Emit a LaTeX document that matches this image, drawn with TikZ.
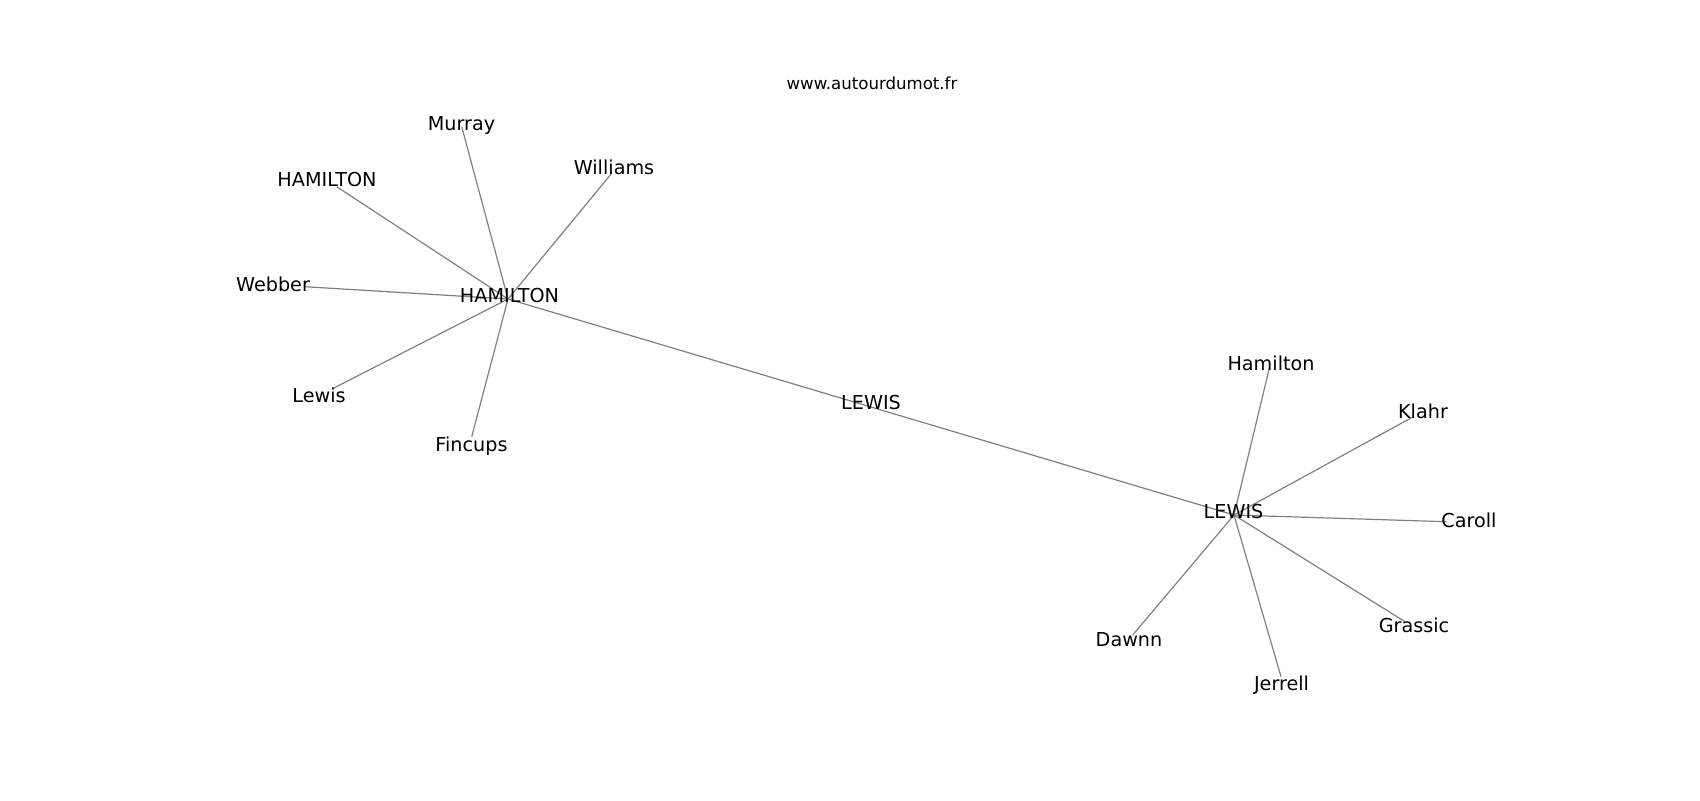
\documentclass[tikz,border=0pt]{standalone}
\usepackage{fontspec}
\setmainfont{DejaVu Sans}
\begin{document}
\begin{tikzpicture}[x=0.5pt,y=-0.5pt,
  lbl/.style={anchor=base,inner sep=0pt,font=\fontsize{9.6}{11}\selectfont},
  ttl/.style={anchor=base,inner sep=0pt,font=\fontsize{8.3}{10}\selectfont},
  edge/.style={draw=black!50,line width=0.6pt}]
\useasboundingbox (0,0) rectangle (1700,800);
% edge end points
\coordinate (hH) at (508,299);
\coordinate (eMurray) at (461.7,126.7);
\coordinate (eWilliams) at (611.7,173.3);
\coordinate (eHam) at (336.7,186.7);
\coordinate (eWebber) at (305,286.7);
\coordinate (eLewis) at (333.3,388.3);
\coordinate (eFincups) at (471.7,436.7);
\coordinate (mid) at (871,407);
\coordinate (hL) at (1234,515);
\coordinate (eHamilton) at (1269.3,368.3);
\coordinate (eKlahr) at (1413.3,416.7);
\coordinate (eCaroll) at (1446.7,521.7);
\coordinate (eDawnn) at (1132.7,635);
\coordinate (eJerrell) at (1281,676.7);
\coordinate (eGrassic) at (1405,621.7);
% edges
\foreach \e in {eMurray,eWilliams,eHam,eWebber,eLewis,eFincups}
  \draw[edge] (hH) -- (\e);
\draw[edge] (hH) -- (mid) -- (hL);
\foreach \e in {eHamilton,eKlahr,eCaroll,eDawnn,eJerrell,eGrassic}
  \draw[edge] (hL) -- (\e);
% labels
\node[ttl] (title) at (872,89) {www.autourdumot.fr};
\node[lbl] (murray) at (461.5,130) {Murray};
\node[lbl] (williams) at (614,174) {Williams};
\node[lbl] (hamleaf) at (327,186) {HAMILTON};
\node[lbl] (webber) at (273,291) {Webber};
\node[lbl] (hamhub) at (509.5,302) {HAMILTON};
\node[lbl] (lewis) at (319,402) {Lewis};
\node[lbl] (fincups) at (471.5,451) {Fincups};
\node[lbl] (lewismid) at (871,409) {LEWIS};
\node[lbl] (hamilton) at (1271,370) {Hamilton};
\node[lbl] (klahr) at (1423,418) {Klahr};
\node[lbl] (lewishub) at (1233.5,518) {LEWIS};
\node[lbl] (caroll) at (1469,527) {Caroll};
\node[lbl] (dawnn) at (1129,646) {Dawnn};
\node[lbl] (jerrell) at (1281.5,690) {Jerrell};
\node[lbl] (grassic) at (1414,632) {Grassic};
\end{tikzpicture}
\end{document}
